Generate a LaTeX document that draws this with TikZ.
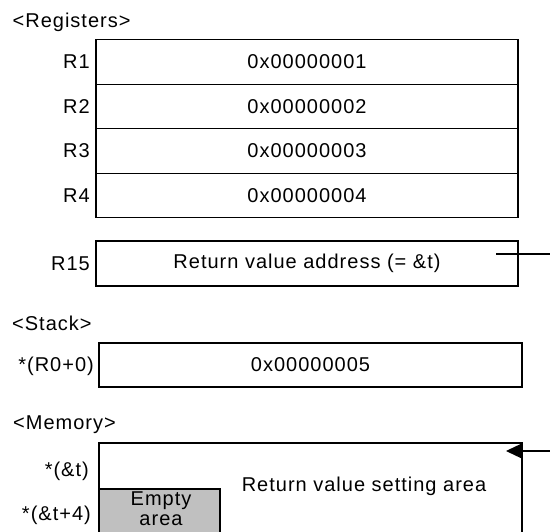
\documentclass[tikz,border=0pt]{standalone}
\usepackage{fontspec}
\setmainfont{Liberation Sans}[LetterSpace=5]
\usetikzlibrary{arrows.meta,positioning,calc}
\definecolor{emptygray}{RGB}{192,192,192}

\begin{document}
\begin{tikzpicture}[x=1pt, y=-1pt,
    font=\fontsize{20}{24}\selectfont,
    cell/.style={draw, line width=1.2pt, inner sep=0pt, outer sep=0pt,
                 minimum width=422pt, minimum height=44.5pt},
    lbl/.style={anchor=base east, inner sep=0pt},
    title/.style={anchor=base west, inner sep=0pt}]
    % Fix the size of the picture (the memory block runs off the bottom)
    \clip (0,0) rectangle (550,532);

    % Registers R1 to R4, one cell under the other
    \node[title] (regtitle) at (12.5,28) {<Registers>};
    \node[cell] (r1) at (307,62) {0x00000001};
    \node[cell, below=0pt of r1] (r2) {0x00000002};
    \node[cell, below=0pt of r2] (r3) {0x00000003};
    \node[cell, below=0pt of r3] (r4) {0x00000004};
    \node[lbl] (lr1) at ($(r1.west)+(-6,7)$) {R1};
    \node[lbl] (lr2) at ($(r2.west)+(-6,7)$) {R2};
    \node[lbl] (lr3) at ($(r3.west)+(-6,7)$) {R3};
    \node[lbl] (lr4) at ($(r4.west)+(-6,7)$) {R4};

    % R15 holds the address of the return value
    \node[cell, minimum height=45pt] (r15) at (307,263.5) {Return value address (= \&t)};
    \node[lbl] (lr15) at ($(r15.west)+(-6,7)$) {R15};
    \coordinate (r15in) at (496,254);
    \coordinate (r15out) at (550,254);
    \draw[line width=1.2pt] (r15in) -- (r15out);

    % Stack
    \node[title] (stktitle) at (12,331) {<Stack>};
    \node[cell, minimum width=423pt, minimum height=44pt] (stk) at (310.5,365) {0x00000005};
    \node[lbl] (lstk) at ($(stk.west)+(-5,7)$) {*(R0+0)};

    % Memory: the return value area, cut off by the bottom edge
    \node[title] (memtitle) at (13,429) {<Memory>};
    \node[cell, minimum width=423pt, minimum height=160pt] (mem) at (310.5,523) {};
    \node[inner sep=0pt, anchor=base] (memtext) at (364,491) {Return value setting area};
    \node[cell, fill=emptygray, minimum width=121pt, minimum height=120pt,
          anchor=north west] (empty) at (99,489) {};
    \node[inner sep=0pt, align=center, anchor=north,
          font=\fontsize{20}{20}\selectfont] (emptytext) at (161,492) {Empty\\area};
    \node[lbl] (lt0) at (89,477) {*(\&t)};
    \node[lbl] (lt4) at (91,520) {*(\&t+4)};

    % Arrow into the top of the memory block
    \coordinate (retin) at (550,451);
    \coordinate (retout) at (506,451);
    \draw[line width=1.2pt, -{Triangle[length=16pt,width=15pt]}] (retin) -- (retout);
\end{tikzpicture}
\end{document}
